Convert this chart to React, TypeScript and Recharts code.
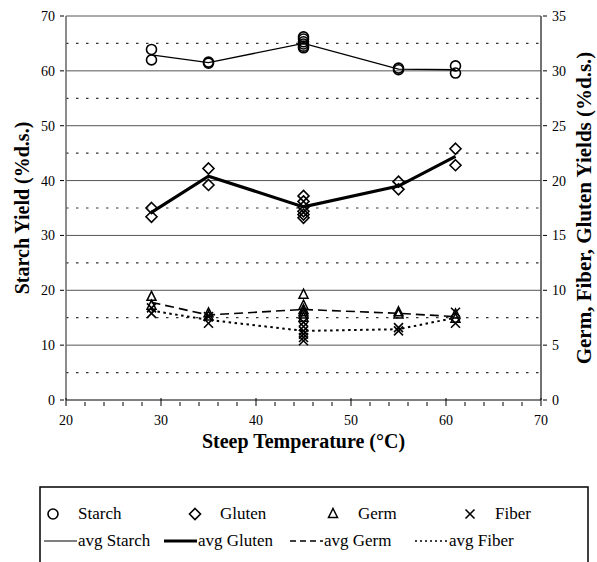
import React from 'react';
import { ComposedChart, XAxis, YAxis, Line, Scatter, ReferenceLine, Label } from 'recharts';

const FONT = "'Liberation Serif', 'DejaVu Serif', serif";
const txt = (size: number, bold = false): React.CSSProperties => ({ fontFamily: FONT, fontSize: size, fontWeight: bold ? 700 : 400 });

// Axis ticks and grid levels
const xTicks = [20, 22, 24, 26, 28, 30, 32, 34, 36, 38, 40, 42, 44, 46, 48, 50, 52, 54, 56, 58, 60, 62, 64, 66, 68, 70];
const leftTicks = [0, 10, 20, 30, 40, 50, 60, 70];
const rightTicks = [0, 5, 10, 15, 20, 25, 30, 35];
const gridSolid = [10, 20, 30, 40, 50, 60, 70];
const gridDotted = [5, 15, 25, 35, 45, 55, 65];

// Average lines (steep temperature, °C)
const avgTemps = [29, 35, 45, 55, 61];
const avgStarch = [62.9, 61.5, 65.0, 60.3, 60.2];
const avgGluten = [17.1, 20.4, 17.6, 19.5, 22.2];
const avgGerm = [8.9, 7.75, 8.25, 7.9, 7.6];
const avgFiber = [8.15, 7.3, 6.3, 6.45, 7.5];

// Replicate measurements
const repTemps = [29, 29, 35, 35, 45, 45, 45, 45, 45, 45, 55, 55, 61, 61];
const starchValues = [63.9, 62.0, 61.6, 61.4, 66.2, 65.8, 65.3, 64.9, 64.5, 64.2, 60.5, 60.2, 60.9, 59.6];
const glutenValues = [17.5, 16.7, 21.1, 19.6, 18.6, 18.1, 17.6, 17.2, 16.9, 16.6, 19.9, 19.2, 22.9, 21.4];
const germValues = [9.4, 8.6, 7.9, 7.6, 9.6, 8.6, 8.2, 8.0, 7.8, 7.5, 8.0, 7.8, 7.8, 7.4];
const fiberValues = [8.4, 7.9, 7.6, 7.0, 7.1, 6.7, 6.3, 6.0, 5.7, 5.4, 6.6, 6.3, 8.0, 7.0];

const zip = (ts: number[], vs: number[]) => ts.map((t, i) => ({ t, v: vs[i] }));

const starchPts = zip(repTemps, starchValues);
const glutenPts = zip(repTemps, glutenValues);
const germPts = zip(repTemps, germValues);
const fiberPts = zip(repTemps, fiberValues);
const starchAvg = zip(avgTemps, avgStarch);
const glutenAvg = zip(avgTemps, avgGluten);
const germAvg = zip(avgTemps, avgGerm);
const fiberAvg = zip(avgTemps, avgFiber);

const CircleShape = (p: any) => <circle cx={p.cx} cy={p.cy} r={5} fill="none" stroke="#000" strokeWidth={1.6} />;
const DiamondShape = (p: any) => (
  <path d={`M${p.cx},${p.cy - 5.5}L${p.cx + 5.5},${p.cy}L${p.cx},${p.cy + 5.5}L${p.cx - 5.5},${p.cy}Z`} fill="none" stroke="#000" strokeWidth={1.6} />
);
const TriangleShape = (p: any) => (
  <path d={`M${p.cx},${p.cy - 5.5}L${p.cx + 4.5},${p.cy + 3.5}L${p.cx - 4.5},${p.cy + 3.5}Z`} fill="none" stroke="#000" strokeWidth={1.5} />
);
const CrossShape = (p: any) => (
  <g stroke="#000" strokeWidth={1.6}>
    <line x1={p.cx - 4.5} y1={p.cy - 4.5} x2={p.cx + 4.5} y2={p.cy + 4.5} />
    <line x1={p.cx - 4.5} y1={p.cy + 4.5} x2={p.cx + 4.5} y2={p.cy - 4.5} />
  </g>
);

const XTick = (p: any) => {
  const major = p.payload.value % 10 === 0;
  return (
    <g>
      <line x1={p.x} x2={p.x} y1={major ? p.y - 4 : p.y} y2={p.y + 4} stroke="#000" />
      {major && (
        <text x={p.x} y={p.y + 23} textAnchor="middle" style={txt(14)} fill="#000">
          {p.payload.value}
        </text>
      )}
    </g>
  );
};
const LeftTick = (p: any) => (
  <g>
    <line x1={p.x - 4} x2={p.x} y1={p.y} y2={p.y} stroke="#000" />
    <text x={p.x - 9} y={p.y + 5} textAnchor="end" style={txt(14)} fill="#000">
      {p.payload.value}
    </text>
  </g>
);
const RightTick = (p: any) => (
  <g>
    <line x1={p.x} x2={p.x + 4} y1={p.y} y2={p.y} stroke="#000" />
    <text x={p.x + 9} y={p.y + 5} textAnchor="start" style={txt(14)} fill="#000">
      {p.payload.value}
    </text>
  </g>
);

const legendRow1 = [
  { name: 'Starch', shape: 'circle', x: 53 },
  { name: 'Gluten', shape: 'diamond', x: 195 },
  { name: 'Germ', shape: 'triangle', x: 333 },
  { name: 'Fiber', shape: 'cross', x: 470 },
];
const legendRow2 = [
  { name: 'avg Starch', w: 1.2, dash: undefined as string | undefined, x: 44 },
  { name: 'avg Gluten', w: 3, dash: undefined as string | undefined, x: 164 },
  { name: 'avg Germ', w: 1.5, dash: '6 4', x: 290 },
  { name: 'avg Fiber', w: 1.5, dash: '2 3', x: 415 },
];

const LegendBox = () => {
  const y1 = 514;
  const y2 = 541;
  return (
    <svg width={597} height={562} style={{ position: 'absolute', left: 0, top: 0, pointerEvents: 'none' }}>
      <rect x={40} y={487} width={548} height={90} fill="none" stroke="#000" strokeWidth={1.5} />
      {legendRow1.map((it) => {
        const cx = it.x;
        const cy = y1;
        let mark: React.ReactNode = null;
        if (it.shape === 'circle') mark = <CircleShape cx={cx} cy={cy} />;
        if (it.shape === 'diamond') mark = <DiamondShape cx={cx} cy={cy} />;
        if (it.shape === 'triangle') mark = <TriangleShape cx={cx} cy={cy} />;
        if (it.shape === 'cross') mark = <CrossShape cx={cx} cy={cy} />;
        return (
          <g key={it.name}>
            {mark}
            <text x={cx + 25} y={cy + 5} style={txt(17)} fill="#000">
              {it.name}
            </text>
          </g>
        );
      })}
      {legendRow2.map((it) => (
        <g key={it.name}>
          <line x1={it.x} x2={it.x + 33} y1={y2} y2={y2} stroke="#000" strokeWidth={it.w} strokeDasharray={it.dash} />
          <text x={it.x + 34} y={y2 + 5} style={txt(17)} fill="#000">
            {it.name}
          </text>
        </g>
      ))}
    </svg>
  );
};

export default function App() {
  return (
    <div style={{ position: 'absolute', left: 0, top: 0, width: 597, height: 562, overflow: 'hidden', background: '#fff' }}>
      <ComposedChart width={597} height={562} margin={{ top: 16, right: 0, bottom: 112, left: 0 }}>
        <XAxis
          dataKey="t"
          type="number"
          domain={[20, 70]}
          ticks={xTicks}
          interval={0}
          tickSize={0}
          tick={<XTick />}
          axisLine={{ stroke: '#000', strokeWidth: 1.2 }}
          height={50}
        >
          <Label
            content={(props: any) => {
              const vb = props.viewBox;
              return (
                <text x={vb.x + vb.width / 2} y={vb.y + 48} textAnchor="middle" style={txt(20, true)} fill="#000">
                  Steep Temperature (°C)
                </text>
              );
            }}
          />
        </XAxis>
        <YAxis
          yAxisId="left"
          dataKey="v"
          type="number"
          domain={[0, 70]}
          ticks={leftTicks}
          interval={0}
          width={66}
          tickSize={0}
          tick={<LeftTick />}
          axisLine={{ stroke: '#666', strokeWidth: 1.5 }}
        >
          <Label
            content={(props: any) => {
              const vb = props.viewBox;
              const cx = 22;
              const cy = vb.y + vb.height / 2;
              return (
                <text x={cx} y={cy} transform={`rotate(-90 ${cx} ${cy})`} textAnchor="middle" dominantBaseline="central" style={txt(20, true)} fill="#000">
                  Starch Yield (%d.s.)
                </text>
              );
            }}
          />
        </YAxis>
        <YAxis
          yAxisId="right"
          orientation="right"
          dataKey="v"
          type="number"
          domain={[0, 35]}
          ticks={rightTicks}
          interval={0}
          width={56}
          tickSize={0}
          tick={<RightTick />}
          axisLine={{ stroke: '#444', strokeWidth: 1.5 }}
        >
          <Label
            content={(props: any) => {
              const vb = props.viewBox;
              const cx = 584;
              const cy = vb.y + vb.height / 2;
              return (
                <text x={cx} y={cy} transform={`rotate(-90 ${cx} ${cy})`} textAnchor="middle" dominantBaseline="central" style={txt(21, true)} fill="#000">
                  Germ, Fiber, Gluten Yields (%d.s.)
                </text>
              );
            }}
          />
        </YAxis>

        {gridDotted.map((v) => (
          <ReferenceLine key={`d${v}`} yAxisId="left" y={v} stroke="#333" strokeWidth={1.2} strokeDasharray="2.5 7.5" />
        ))}
        {gridSolid.map((v) => (
          <ReferenceLine key={`s${v}`} yAxisId="left" y={v} stroke="#555" strokeWidth={1} />
        ))}

        <Line yAxisId="left" data={starchAvg} dataKey="v" type="linear" stroke="#000" strokeWidth={1.3} dot={false} isAnimationActive={false} />
        <Line yAxisId="right" data={glutenAvg} dataKey="v" type="linear" stroke="#000" strokeWidth={3.2} dot={false} isAnimationActive={false} />
        <Line yAxisId="right" data={germAvg} dataKey="v" type="linear" stroke="#000" strokeWidth={1.6} strokeDasharray="9 5" dot={false} isAnimationActive={false} />
        <Line yAxisId="right" data={fiberAvg} dataKey="v" type="linear" stroke="#000" strokeWidth={2} strokeDasharray="2.5 3.5" dot={false} isAnimationActive={false} />

        <Scatter yAxisId="left" data={starchPts} dataKey="v" shape={CircleShape} isAnimationActive={false} />
        <Scatter yAxisId="right" data={glutenPts} dataKey="v" shape={DiamondShape} isAnimationActive={false} />
        <Scatter yAxisId="right" data={germPts} dataKey="v" shape={TriangleShape} isAnimationActive={false} />
        <Scatter yAxisId="right" data={fiberPts} dataKey="v" shape={CrossShape} isAnimationActive={false} />
      </ComposedChart>
      <LegendBox />
    </div>
  );
}
